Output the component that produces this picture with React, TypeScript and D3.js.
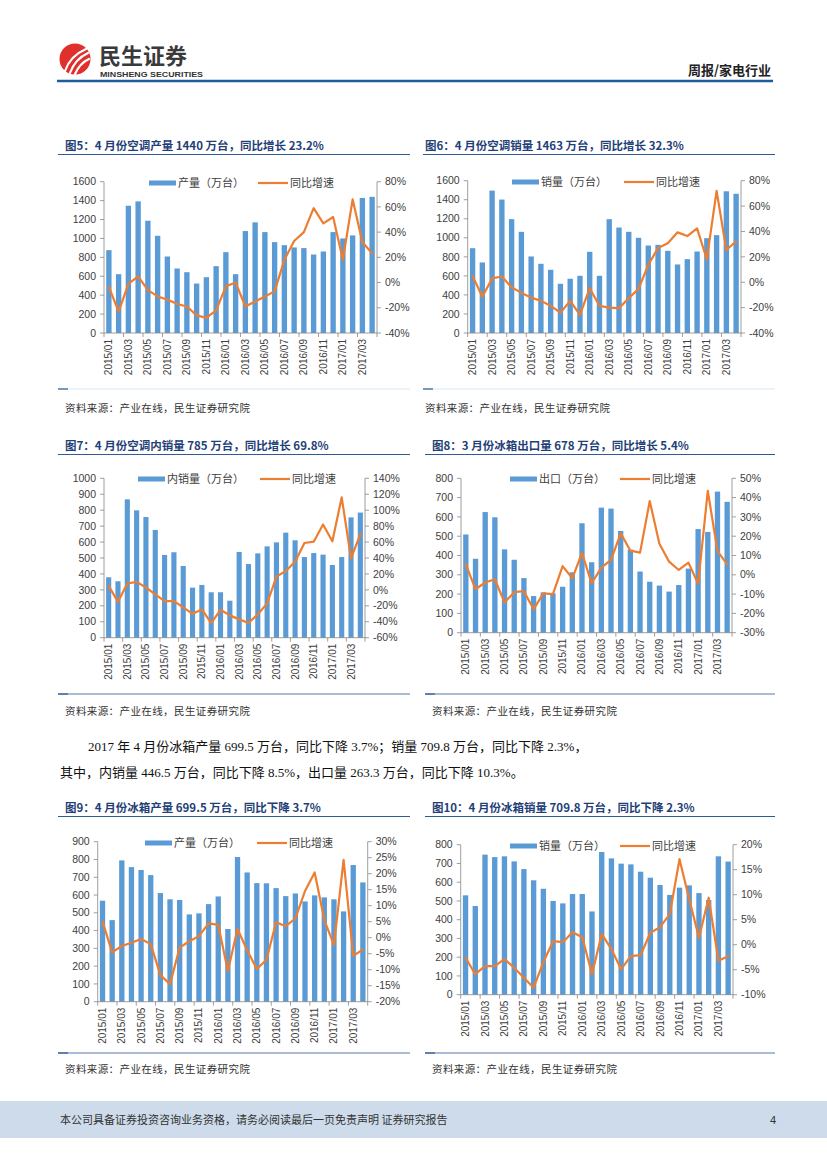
import * as d3 from "d3"

// categories
const months = [
  "2015/01", "2015/02", "2015/03", "2015/04", "2015/05", "2015/06", "2015/07",
  "2015/08", "2015/09", "2015/10", "2015/11", "2015/12", "2016/01", "2016/02",
  "2016/03", "2016/04", "2016/05", "2016/06", "2016/07", "2016/08", "2016/09",
  "2016/10", "2016/11", "2016/12", "2017/01", "2017/02", "2017/03", "2017/04",
]

// 图5 空调产量（万台）/ 同比增速（%）
const acOutput = [876, 622, 1346, 1392, 1187, 1028, 809, 682, 643, 523, 590, 707, 855, 622,
  1078, 1170, 1067, 961, 929, 905, 898, 830, 862, 1067, 1000, 1032, 1428, 1440]
const acOutputYoY = [-3.5, -23, -1, 5, -6, -11, -13.5, -17, -19, -26, -28, -22, -3, 0,
  -19, -15, -11, -7, 18, 33, 40, 59, 47, 52, 18, 66, 32, 23.2]

// 图6 空调销量
const acSales = [891, 741, 1496, 1402, 1196, 1063, 804, 727, 664, 517, 570, 601, 853, 601,
  1196, 1108, 1063, 1000, 919, 926, 863, 720, 776, 856, 996, 1028, 1489, 1463]
const acSalesYoY = [5, -11.5, 3, 4.5, -4, -8.4, -12, -14.7, -18.6, -24, -14.7, -25.7, -4.7, -18.6,
  -20, -20.4, -12.6, -5.2, 13.6, 27, 30.7, 39.3, 36.4, 42.4, 18, 72, 25.4, 32.3]

// 图7 空调内销量
const acDomestic = [379, 354, 868, 799, 757, 676, 519, 536, 450, 314, 331, 285, 285, 232,
  538, 462, 529, 573, 598, 659, 611, 506, 531, 521, 456, 506, 755, 785]
const acDomesticYoY = [5, -15, 8, 10, 3, -5.6, -14, -14, -22, -30, -24.5, -41.6, -25, -32,
  -37, -41.6, -30.7, -17, 16.6, 23.7, 35.4, 58.8, 60.5, 82, 61, 116, 39.6, 69.8]

// 图8 冰箱出口
const frExport = [509, 383, 625, 598, 432, 378, 283, 190, 209, 204, 238, 313, 567, 365,
  648, 643, 527, 430, 317, 264, 244, 213, 247, 332, 537, 522, 731, 678]
const frExportYoY = [5.4, -7.5, -4, -2.3, -14.4, -9, -8.5, -17.9, -9.6, -10, 4.5, -1.8, 11.3, -4.4,
  3.7, 7.7, 21.5, 12.5, 11.5, 38.2, 16.1, 6.8, 2.5, 6.3, -4.6, 43.5, 12.3, 5.4]

// 图9 冰箱产量
const frOutput = [568, 459, 795, 757, 741, 712, 611, 576, 572, 491, 497, 549, 592, 409,
  814, 727, 667, 666, 639, 594, 609, 564, 598, 587, 576, 508, 769, 671]
const frOutputYoY = [5, -4.6, -2.6, -1.6, -0.4, -2, -11.7, -14.5, -3.1, -1.1, 0.5, 4.5, 4, -10.4,
  2.7, -3.9, -9.8, -6.9, 4.8, 3.6, 6, 14.6, 20.4, 5.6, -2.3, 24.3, -5.7, -3.7]

// 图10 冰箱销量
const frSales = [530, 473, 747, 734, 738, 711, 670, 610, 565, 500, 487, 537, 537, 444,
  761, 727, 699, 695, 656, 624, 585, 532, 571, 583, 542, 505, 738, 710]
const frSalesYoY = [-2.6, -5.9, -4.3, -4.3, -2.9, -4.6, -6.6, -8.6, -3.5, 0.7, 0.5, 2.5, 1.5, -5.9,
  2.1, -0.9, -4.9, -2.3, -2.1, 2.4, 3.5, 6.1, 17.1, 9.1, 1.4, 9.4, -3.2, -2.3]

const BAR = "#5B9BD5"
const LINE = "#ED7D31"
const AXIS = "#868686"
const TICK_TEXT = "#404040"
const NAVY = "#1F3F77"
const SANS = '"Liberation Sans", Arial, "Noto Sans CJK SC", sans-serif'
const CJK = '"Noto Sans CJK SC", "Liberation Sans", sans-serif'
const SERIF = '"Liberation Serif", "Noto Sans CJK SC", serif'

const SOURCE = "资料来源：产业在线，民生证券研究院"

interface Box { left: number; right: number; top: number; bottom: number }

interface ChartProps {
  title: string
  titleX: number
  titleY: number
  ruleX: [number, number]
  plot: Box
  leftMax: number
  leftStep: number
  rightMin: number
  rightMax: number
  rightStep: number
  bars: number[]
  growth: number[]
  barLabel: string
  legend: { barX: number; lineX: number; y: number }
  sourceY: number
  sepY: number
  sepColor: string
}

function DualChart(p: ChartProps) {
  const { plot } = p
  const x = d3.scaleBand<string>().domain(months).range([plot.left, plot.right])
    .paddingInner(0.45).paddingOuter(0.225)
  const step = x.step()
  const yL = d3.scaleLinear().domain([0, p.leftMax]).range([plot.bottom, plot.top])
  const yR = d3.scaleLinear().domain([p.rightMin, p.rightMax]).range([plot.bottom, plot.top])
  const leftTicks = d3.range(0, p.leftMax + p.leftStep / 2, p.leftStep)
  const rightTicks = d3.range(p.rightMin, p.rightMax + p.rightStep / 2, p.rightStep)
  const cx = (m: string) => (x(m) || 0) + x.bandwidth() / 2

  const line = d3.line<number>()
    .x((_, i) => cx(months[i]))
    .y((d) => yR(d))

  const boundaryTicks = d3.range(0, months.length + 1, 2).map((i) => plot.left + i * step)

  return (
    <g>
      {/* title */}
      <text x={p.titleX} y={p.titleY} fontFamily={CJK} fontSize={11.5} fontWeight="bold" fill={NAVY}>
        {p.title}
      </text>
      <line x1={p.ruleX[0]} x2={p.ruleX[1]} y1={p.titleY + 4.5} y2={p.titleY + 4.5} stroke="#2E5B95" strokeWidth={1} />

      {/* bars */}
      {p.bars.map((v, i) => (
        <rect key={i} x={x(months[i])} y={yL(v)} width={x.bandwidth()} height={plot.bottom - yL(v)} fill={BAR} />
      ))}

      {/* growth line */}
      <path d={line(p.growth) || ""} fill="none" stroke={LINE} strokeWidth={2.2} strokeLinejoin="round" strokeLinecap="round" />

      {/* axes */}
      <g stroke={AXIS} strokeWidth={0.8}>
        <line x1={plot.left} x2={plot.left} y1={plot.top} y2={plot.bottom} />
        <line x1={plot.right} x2={plot.right} y1={plot.top} y2={plot.bottom} />
        <line x1={plot.left} x2={plot.right} y1={plot.bottom} y2={plot.bottom} />
        {leftTicks.map((t) => (
          <line key={"l" + t} x1={plot.left - 4} x2={plot.left} y1={yL(t)} y2={yL(t)} />
        ))}
        {rightTicks.map((t) => (
          <line key={"r" + t} x1={plot.right} x2={plot.right + 4} y1={yR(t)} y2={yR(t)} />
        ))}
        {boundaryTicks.map((bx, i) => (
          <line key={"b" + i} x1={bx} x2={bx} y1={plot.bottom} y2={plot.bottom + 4} />
        ))}
      </g>

      <g fontFamily={SANS} fontSize={10.5} fill={TICK_TEXT}>
        {leftTicks.map((t) => (
          <text key={"lt" + t} x={plot.left - 8} y={yL(t)} dy="0.35em" textAnchor="end">{t}</text>
        ))}
        {rightTicks.map((t) => (
          <text key={"rt" + t} x={plot.right + 8} y={yR(t)} dy="0.35em" textAnchor="start">{`${t}%`}</text>
        ))}
        {months.map((m, i) => i % 2 === 0 ? (
          <text key={m} transform={`translate(${cx(m)},${plot.bottom + 6}) rotate(-90)`} dy="0.35em"
            textAnchor="end" fontSize={10}>{m}</text>
        ) : null)}
      </g>

      {/* legend */}
      <rect x={p.legend.barX} y={p.legend.y - 2.5} width={27} height={5} fill={BAR} />
      <text x={p.legend.barX + 29} y={p.legend.y} dy="0.35em" fontFamily={CJK} fontSize={11} fill={TICK_TEXT}>
        {p.barLabel}
      </text>
      <line x1={p.legend.lineX} x2={p.legend.lineX + 30} y1={p.legend.y} y2={p.legend.y} stroke={LINE} strokeWidth={2.2} />
      <text x={p.legend.lineX + 32} y={p.legend.y} dy="0.35em" fontFamily={CJK} fontSize={11} fill={TICK_TEXT}>
        同比增速
      </text>

      {/* separator + source */}
      <line x1={p.ruleX[0]} x2={p.ruleX[1]} y1={p.sepY} y2={p.sepY} stroke={p.sepColor} strokeWidth={1.2} />
      <line x1={p.ruleX[0]} x2={p.ruleX[0] + 10} y1={p.sepY} y2={p.sepY} stroke="#2E5B95" strokeWidth={1.2} />
      <text x={p.titleX} y={p.sourceY} fontFamily={CJK} fontSize={10.5} fill="#333" letterSpacing={0.4}>{SOURCE}</text>
    </g>
  )
}

export default function App() {
  return (
    <svg width={827} height={1169} style={{ position: "absolute", left: 0, top: 0, background: "#fff" }}>
      <rect width={827} height={1169} fill="#fff" />

      {/* header */}
      <circle cx={75} cy={59} r={15.5} fill="#E0302B" />
      <g stroke="#fff" strokeWidth={2.2} fill="none" strokeLinecap="round">
        <path d="M65,71 Q70,56 86,49" />
        <path d="M70,73 Q75,59 88,53" />
        <path d="M75,74 Q80,63 89,59" />
      </g>
      <text x={99} y={64} fontFamily={CJK} fontSize={22} fontWeight="bold" fill="#3a3a3a">民生证券</text>
      <text x={100} y={76.5} fontFamily={SANS} fontSize={8} fontWeight="bold" fill="#333" textLength={103} lengthAdjust="spacingAndGlyphs">MINSHENG SECURITIES</text>
      <text x={771} y={75} textAnchor="end" fontFamily={CJK} fontSize={13} fontWeight="bold" fill="#222">周报/家电行业</text>
      <line x1={57} x2={773} y1={81} y2={81} stroke="#1E5D9B" strokeWidth={2.5} />

      <DualChart
        title="图5：4 月份空调产量 1440 万台，同比增长 23.2%"
        titleX={65} titleY={150} ruleX={[58, 410]}
        plot={{ left: 104, right: 377, top: 181.7, bottom: 333 }}
        leftMax={1600} leftStep={200} rightMin={-40} rightMax={80} rightStep={20}
        bars={acOutput} growth={acOutputYoY} barLabel="产量（万台）"
        legend={{ barX: 149, lineX: 258, y: 183 }}
        sepY={389} sepColor="#D6E8F4" sourceY={412}
      />
      <DualChart
        title="图6：4 月份空调销量 1463 万台，同比增长 32.3%"
        titleX={425} titleY={150} ruleX={[423, 775]}
        plot={{ left: 467.7, right: 741, top: 180.7, bottom: 333 }}
        leftMax={1600} leftStep={200} rightMin={-40} rightMax={80} rightStep={20}
        bars={acSales} growth={acSalesYoY} barLabel="销量（万台）"
        legend={{ barX: 512, lineX: 624, y: 182 }}
        sepY={389} sepColor="#D6E8F4" sourceY={412}
      />
      <DualChart
        title="图7：4 月份空调内销量 785 万台，同比增长 69.8%"
        titleX={65} titleY={450} ruleX={[58, 410]}
        plot={{ left: 104, right: 365, top: 478.3, bottom: 637.7 }}
        leftMax={1000} leftStep={100} rightMin={-60} rightMax={140} rightStep={20}
        bars={acDomestic} growth={acDomesticYoY} barLabel="内销量（万台）"
        legend={{ barX: 138, lineX: 260, y: 479 }}
        sepY={694} sepColor="#5679A8" sourceY={715}
      />
      <DualChart
        title="图8：3 月份冰箱出口量 678 万台，同比增长 5.4%"
        titleX={432} titleY={450} ruleX={[425, 775]}
        plot={{ left: 461, right: 732, top: 478.3, bottom: 632.7 }}
        leftMax={800} leftStep={100} rightMin={-30} rightMax={50} rightStep={10}
        bars={frExport} growth={frExportYoY} barLabel="出口（万台）"
        legend={{ barX: 510, lineX: 620, y: 479 }}
        sepY={694} sepColor="#5679A8" sourceY={715}
      />

      {/* body text */}
      <text x={88} y={751} fontFamily={SERIF} fontSize={13} fill="#111">
        2017 年 4 月份冰箱产量 699.5 万台，同比下降 3.7%；销量 709.8 万台，同比下降 2.3%，
      </text>
      <text x={60} y={777} fontFamily={SERIF} fontSize={13} fill="#111">
        其中，内销量 446.5 万台，同比下降 8.5%，出口量 263.3 万台，同比下降 10.3%。
      </text>

      <DualChart
        title="图9：4 月份冰箱产量 699.5 万台，同比下降 3.7%"
        titleX={65} titleY={812} ruleX={[58, 410]}
        plot={{ left: 97.7, right: 367.7, top: 841.7, bottom: 1001.7 }}
        leftMax={900} leftStep={100} rightMin={-20} rightMax={30} rightStep={5}
        bars={frOutput} growth={frOutputYoY} barLabel="产量（万台）"
        legend={{ barX: 145, lineX: 257, y: 843 }}
        sepY={1053} sepColor="#5679A8" sourceY={1073}
      />
      <DualChart
        title="图10：4 月份冰箱销量 709.8 万台，同比下降 2.3%"
        titleX={432} titleY={812} ruleX={[425, 775]}
        plot={{ left: 460.7, right: 733, top: 844.7, bottom: 994.7 }}
        leftMax={800} leftStep={100} rightMin={-10} rightMax={20} rightStep={5}
        bars={frSales} growth={frSalesYoY} barLabel="销量（万台）"
        legend={{ barX: 510, lineX: 620, y: 846 }}
        sepY={1053} sepColor="#5679A8" sourceY={1073}
      />

      {/* footer */}
      <rect x={0} y={1101} width={827} height={37} fill="#CDDBEA" />
      <text x={60} y={1124} fontFamily={CJK} fontSize={11} fill="#333">
        本公司具备证券投资咨询业务资格，请务必阅读最后一页免责声明 证券研究报告
      </text>
      <text x={770} y={1124} fontFamily={SANS} fontSize={11} fill="#333">4</text>
    </svg>
  )
}
